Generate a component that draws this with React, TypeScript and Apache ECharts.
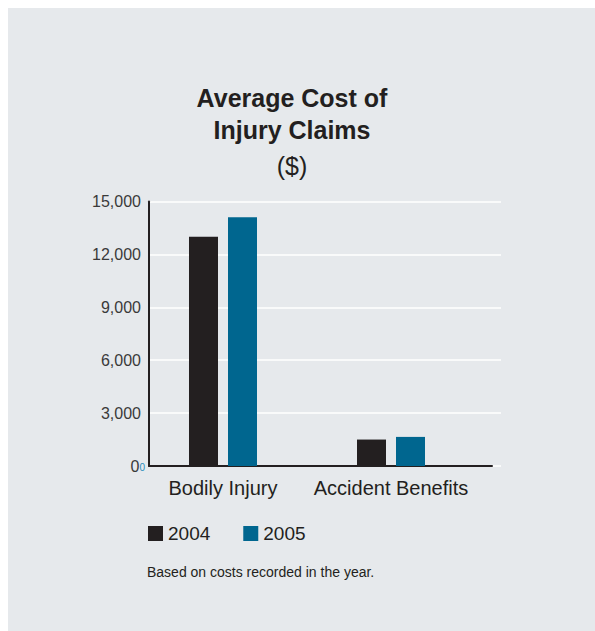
import React, { useEffect, useRef } from 'react';
import * as echarts from 'echarts';

const categories = ['Bodily Injury', 'Accident Benefits'];
const seriesNames = ['2004', '2005'];
const values2004 = [13000, 1500];
const values2005 = [14100, 1650];
const yMin = 0;
const yMax = 15000;
const yInterval = 3000;
const titleLines = ['Average Cost of', 'Injury Claims', '($)'];
const footnote = 'Based on costs recorded in the year.';

const FONT = '"Liberation Sans", Arial, Helvetica, sans-serif';
const DARK = '#231f20';
const BLUE = '#00668f';
const BG = '#e6e9ec';

export default function App() {
  const ref = useRef<HTMLDivElement>(null);
  useEffect(() => {
    if (!ref.current) return;
    const chart = echarts.init(ref.current, undefined, { renderer: 'svg' });
    const top = 193.5;
    const height = 264.5;
    chart.setOption({
      animation: false,
      backgroundColor: BG,
      textStyle: { fontFamily: FONT },
      grid: [
        { left: 141, top, width: 352, height },
        { left: 131, top, width: 336, height },
        { left: 141, top, width: 343, height },
      ],
      xAxis: [
        { gridIndex: 0, type: 'category', data: categories, show: false },
        {
          gridIndex: 1,
          type: 'category',
          data: categories,
          axisLine: { show: false },
          axisTick: { show: false },
          axisLabel: { interval: 0, fontSize: 20, color: DARK, margin: 12, fontFamily: FONT },
        },
        {
          gridIndex: 2,
          type: 'value',
          min: 0,
          max: 1,
          axisLine: { show: true, lineStyle: { color: DARK, width: 2 } },
          axisTick: { show: false },
          axisLabel: { show: false },
          splitLine: { show: false },
        },
      ],
      yAxis: [
        {
          gridIndex: 0,
          type: 'value',
          min: yMin,
          max: yMax,
          interval: yInterval,
          axisLine: { show: true, lineStyle: { color: DARK, width: 2 } },
          axisTick: { show: false },
          axisLabel: {
            margin: 4,
            formatter: (v: number) =>
              v === 0 ? '{z|0}{s|0}' : '{n|' + v.toLocaleString('en-US') + '}',
            rich: {
              n: { fontSize: 16, color: '#3a3a3a', fontFamily: FONT, padding: [0, 4, 0, 0] },
              z: { fontSize: 16, color: '#3a3a3a', fontFamily: FONT },
              s: { fontSize: 10, color: '#2a8dbb', fontFamily: FONT, padding: [3, 0, 0, 0] },
            },
          },
          splitLine: { show: true, lineStyle: { color: '#ffffff', width: 1.5 } },
        },
        { gridIndex: 1, type: 'value', min: yMin, max: yMax, show: false },
        { gridIndex: 2, type: 'value', min: yMin, max: yMax, show: false },
      ],
      legend: {
        data: seriesNames,
        left: 140,
        top: 516,
        padding: 0,
        itemWidth: 15,
        itemHeight: 15,
        itemGap: 33,
        icon: 'rect',
        textStyle: { fontSize: 19, color: DARK, fontFamily: FONT },
      },
      series: [
        {
          name: seriesNames[0],
          type: 'bar',
          xAxisIndex: 1,
          yAxisIndex: 1,
          data: values2004,
          barWidth: 29,
          barGap: '34.5%',
          itemStyle: { color: DARK },
        },
        {
          name: seriesNames[1],
          type: 'bar',
          xAxisIndex: 1,
          yAxisIndex: 1,
          data: values2005,
          barWidth: 29,
          barGap: '34.5%',
          itemStyle: { color: BLUE },
        },
      ],
      graphic: [
        {
          type: 'text',
          x: 284,
          y: 89.5,
          style: {
            text: titleLines[0],
            fontSize: 25,
            fontWeight: 'bold',
            fontFamily: FONT,
            fill: DARK,
            textAlign: 'center',
            textVerticalAlign: 'middle',
          },
        },
        {
          type: 'text',
          x: 284,
          y: 122.2,
          style: {
            text: titleLines[1],
            fontSize: 25,
            fontWeight: 'bold',
            fontFamily: FONT,
            fill: DARK,
            textAlign: 'center',
            textVerticalAlign: 'middle',
          },
        },
        {
          type: 'text',
          x: 284,
          y: 157.5,
          style: {
            text: titleLines[2],
            fontSize: 25,
            fontFamily: FONT,
            fill: DARK,
            textAlign: 'center',
            textVerticalAlign: 'middle',
          },
        },
        {
          type: 'text',
          x: 139,
          y: 564,
          style: {
            text: footnote,
            fontSize: 14,
            fontFamily: FONT,
            fill: DARK,
            textAlign: 'left',
            textVerticalAlign: 'middle',
          },
        },
      ],
    });
    return () => chart.dispose();
  }, []);
  return (
    <div
      ref={ref}
      style={{ position: 'fixed', left: 8, top: 8, width: 587, height: 623 }}
    />
  );
}
